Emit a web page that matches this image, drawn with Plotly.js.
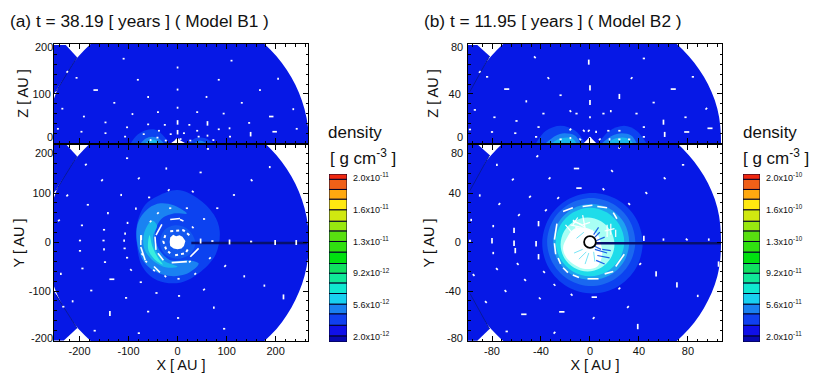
<!DOCTYPE html>
<html><head><meta charset="utf-8">
<script src="https://cdn.plot.ly/plotly-3.0.1.min.js"></script>
<style>html,body{margin:0;padding:0;background:#fff}#c{width:830px;height:380px}</style>
</head><body><div id="c"></div>
<script>
// ---- density colour levels ----
const levelBounds=[1.4,2.1,3.3,4.6,5.7,6.9,8.1,9.2,10.3,11.6,12.8,14,15.1,16.4,17.6,18.7,19.85,20.45];
const levelColors=['#0808b0','#1010e8','#1040f0','#1a80f0','#18d0f0','#10e8d0','#10e898','#10e060','#00e010','#30e010','#58e010','#98e810','#d0e810','#ffe810','#ffa810','#f06018','#f02810','#c81810'].slice(0,17);
const barTickVals=[2,5.6,9.2,12.8,16.4,20];
const barTextA=['2.0x10<sup>-12</sup>','5.6x10<sup>-12</sup>','9.2x10<sup>-12</sup>','1.3x10<sup>-11</sup>','1.6x10<sup>-11</sup>','2.0x10<sup>-11</sup>'];
const barTextB=['2.0x10<sup>-11</sup>','5.6x10<sup>-11</sup>','9.2x10<sup>-11</sup>','1.3x10<sup>-10</sup>','1.6x10<sup>-10</sup>','2.0x10<sup>-10</sup>'];

const BG='#0618e6', C1='#0c42f0', C2='#1a82f2', C3='#1ab6ec', C4='#38eee0', C5='#a8fff4';

// ---- Model B1 outline of the computational disk (AU) ----
const diskAx=[268,259,232,190,134,69,0,-69,-134,-190,-232,-259,-268,-259,-232,-190,-134,-69,0,69,134,190,232,259,268];
const diskAy=[0,69,134,190,232,259,268,259,232,190,134,69,0,-69,-134,-190,-232,-259,-268,-259,-232,-190,-134,-69,0];
const cornerAx=[-252,-228,-205,-248,-252];
const cornerAy=[200,200,175,105,100];
const cornerAxB=[-252,-232,-205,-248,-252];
const cornerAyB=[-201,-201,-176,-108,-100];

// B1 X-Y density levels
const a1x=[86,74,40,0,-40,-66,-83,-83,-72,-42,5,48,78,86];
const a1y=[22,56,90,106,94,76,35,-5,-50,-78,-83,-60,-25,22];
const a2x=[-59,-80,-83,-66,-29,16,43,22,-15,-39,-46,-35,-8,19,-8,-35,-59];
const a2y=[69,41,1,-44,-67,-66,-44,-37,-37,-13,14,45,58,58,75,79,69];
const a3x=[-52,-68,-68,-50,-22,0,-26,-44,-50,-42,-52];
const a3y=[44,19,-13,-38,-52,-50,-39,-17,12,34,44];
const a4x=[-57,-60,-48,-30,-40,-51,-57];
const a4y=[14,-14,-34,-46,-32,-10,14];
const aCorex=[36,21,-5,-28,-36,-23,5,29,36];
const aCorey=[0,26,34,23,-4,-27,-34,-21,0];
const aWhitex=[16,13,10,4,-3,-9,-15,-16,-15,-8,0,8,13,16];
const aWhitey=[2,8,11,14,12,15,9,0,-8,-13,-15,-13,-8,2];

// B1 X-Z density levels
const z1ax=[-95,-85,-65,-45,-28,-18];      const z1ay=[0,14,26,27,14,0];
const z2ax=[-75,-65,-52,-38,-28];          const z2ay=[0,9,13,9,0];
const z3ax=[-65,-55,-45,-38];              const z3ay=[0,6,6,0];
const z4ax=[22,38,55,72];                  const z4ay=[0,10,10,0];
const z5ax=[35,45,58];                     const z5ay=[0,5,0];
const z6ax=[-13,-6,0,6,15];                const z6ay=[0,5,10,5,0];

// B1 velocity dashes: x, y, orientation (h v / \ ; capital = long)
const velA=[[-103,171,'h'],[-187,158,'/'],[-23,150,'v'],[47,142,'h'],[188,153,'v'],[-154,126,'/'],[-79,130,'/'],[151,126,'\\'],[-18,106,'/'],[31,103,'\\'],[115,96,'h'],[-225,95,'/'],[-115,96,'v'],[-58,91,'h'],[-183,76,'h'],[-142,59,'v'],[-85,68,'v'],[-40,59,'/'],[-15,69,'h'],[19,69,'h'],[81,69,'h'],[54,47,'h'],[-102,39,'v'],[-242,44,'/'],[-195,34,'h'],[-150,25,'h'],[-107,17,'v'],[-55,42,'/'],[31,30,'\\'],[-199,3,'h'],[-151,3,'h'],[-109,3,'v'],[-74,9,'V'],[71,2,'h'],[106,0,'V'],[150,1,'h'],[199,-1,'V'],[242,-1,'V'],[47,2,'V'],[-199,-18,'h'],[-150,-15,'v'],[-108,-13,'h'],[-72,-25,'\\'],[-103,-32,'h'],[-148,-41,'h'],[-64,-40,'\\'],[-194,-54,'h'],[-95,-57,'\\'],[-48,-58,'\\'],[-25,-70,'\\'],[2,-75,'h'],[36,-65,'/'],[25,-40,'/'],[66,-33,'/'],[97,-49,'/'],[136,-70,'v'],[-238,-65,'v'],[-134,-76,'H'],[-75,-82,'h'],[54,-97,'/'],[177,-89,'v'],[-176,-99,'h'],[-43,-104,'h'],[3,-110,'h'],[-105,-114,'h'],[-214,-121,'v'],[-233,-132,'h'],[216,-112,'V'],[74,-134,'v'],[-138,-146,'V'],[-60,-142,'h'],[1,-155,'h'],[95,-177,'h'],[-169,-181,'h'],[-79,-186,'h'],[62,190,'h']];
const velAz=[[-110,172,'h'],[110,168,'h'],[0,154,'v'],[-225,145,'/'],[-206,133,'h'],[-81,129,'h'],[84,129,'h'],[0,109,'v'],[205,131,'v'],[-167,108,'H'],[168,108,'h'],[-60,94,'v'],[59,94,'v'],[-129,82,'h'],[131,82,'h'],[-235,70,'h'],[236,69,'v'],[0,72,'v'],[-40,63,'h'],[40,63,'h'],[-191,54,'h'],[-92,59,'v'],[94,60,'h'],[191,54,'H'],[0,42,'V'],[-147,42,'h'],[146,41,'h'],[61,40,'V'],[-60,38,'h'],[-26,37,'h'],[24,37,'h'],[-244,29,'h'],[-103,32,'h'],[106,30,'v'],[243,29,'h'],[-196,23,'h'],[-147,20,'h'],[-38,25,'h'],[0,22,'V'],[40,25,'h'],[84,28,'h'],[198,23,'H'],[149,18,'V'],[107,13,'h'],[-107,13,'h'],[-69,18,'h'],[-14,18,'h'],[13,20,'h'],[61,15,'v'],[-41,11,'h'],[43,13,'h'],[-55,6,'v'],[-24,5,'h'],[26,5,'h'],[73,6,'h'],[-2,6,'h'],[6,8,'h']];
// B1 dashed rings
const ringAx=[-15,5,null,5,12,null,-32,-44,null,-46,-44,null,-40,-29,null,-12,19,null,26,43,null,-75,-75,null,-75,-66,null,-48,-36,null];
const ringAy=[46,48,null,46,43,null,36,14,null,11,-16,null,-23,-37,null,-42,-40,null,-30,-13,null,14,-6,null,-10,-37,null,-50,-62,null];
const dotRingAx=[-25,-29,-23,-15,null,-15,12,24,null,-5,16,22];
const dotRingAy=[14,1,-16,-23,null,22,24,14,null,-27,-23,-13];
const jetAx=[28,264];
const jetAy=[-2,-2];

// ---- Model B2 ----
const diskBx=[107,104,93,76,54,28,0,-28,-54,-76,-93,-104,-107,-104,-93,-76,-54,-28,0,28,54,76,93,104,107];
const diskBy=[0,28,54,76,93,104,107,104,93,76,54,28,0,-28,-54,-76,-93,-104,-107,-104,-93,-76,-54,-28,0];
const cornerBx=[-99.6,-92,-82,-98,-99.6];
const cornerBy=[80,80,71,42,40];
const cornerByB=[-80.5,-80.5,-71,-42,-40];
const b1x=[43,37.5,22.5,2,-18.5,-33.5,-39,-33.5,-18.5,2,22.5,37.5,43];
const b1y=[-1,19.5,34.5,40,34.5,19.5,-1,-21.5,-36.5,-42,-36.5,-21.5,-1];
const b2x=[37,32,19,1,-17,-30,-35,-30,-17,1,19,32,37];
const b2y=[0,18,31,36,31,18,0,-18,-31,-36,-31,-18,0];
const b3x=[32,28,16.5,1,-14.5,-26,-30,-26,-14.5,1,16.5,28,32];
const b3y=[0,15.5,27,31,27,15.5,0,-15.5,-27,-31,-27,-15.5,0];
const b4x=[28,24,14,0,-14,-24,-28,-24,-14,0,14,24,28];
const b4y=[0,14,24,28,24,14,0,-14,-24,-28,-24,-14,0];
const b5x=[20,17,9,-2,-13,-21,-24,-21,-13,-2,9,17,20];
const b5y=[-2,9,17,20,17,9,-2,-13,-21,-24,-21,-13,-2];
const b6x=[9,7,1,-7,-14,-19,-22,-19,-12,-4,6,10,9];
const b6y=[-2,5,10,12,10,3,-5,-13,-19,-22,-20,-10,-2];
const holeBx=[4.8,3.4,0,-3.4,-4.8,-3.4,0,3.4,4.8];
const holeBy=[0,3.4,4.8,3.4,0,-3.4,-4.8,-3.4,0];
const zb1x=[-44,-36,-24,-12,-4];   const zb1y=[0,10,14,10,0];
const zb2x=[-36,-28,-21,-12,-8];   const zb2y=[0,6,8,6,0];
const zb3x=[-31,-23,-15,-11];      const zb3y=[0,4,4,0];
const zb4x=[7,16,28,38,46];        const zb4y=[0,10,14,10,0];
const zb5x=[10,18,26,34,38];       const zb5y=[0,6,8,6,0];
const zb6x=[14,22,30,35];          const zb6y=[0,4,4,0];
const zb7x=[-5,-2,0,2,5];          const zb7y=[0,3,5,3,0];

const velB=[[-43,70,'/'],[-76,63,'v'],[-11,60,'H'],[18,58,'\\'],[61,52,'\\'],[76,63,'h'],[-63,51,'/'],[-33,52,'/'],[-49,37,'/'],[-9,44,'H'],[11,43,'\\'],[46,40,'\\'],[-90,38,'v'],[-26,36,'/'],[-74,31,'/'],[32,31,'\\'],[-36,26,'/'],[-58,22,'/'],[-97,18,'v'],[-79,13,'v'],[-42,15,'V'],[-62,9.5,'V'],[-80,1,'V'],[-62,-1,'V'],[-44,-1.4,'V'],[-98,1,'v'],[44,3,'V'],[60,2,'v'],[79,2,'\\'],[97,2,'v'],[-79,-9,'v'],[-61,-7,'V'],[-42,-12,'V'],[-59,-18,'\\'],[-76,-22,'\\'],[-37.5,-24.5,'\\'],[-95,-27,'\\'],[-53,-31,'\\'],[-29,-35,'\\'],[-69,-40,'\\'],[-15,-43,'\\'],[-41,-46,'\\'],[3.5,-45,'H'],[24,-38,'/'],[-85,-49,'\\'],[54,-26,'V'],[71,-35,'V'],[88,-44,'v'],[41,-18,'/'],[31,-53,'/'],[-54,-59,'H'],[-23,-57,'H'],[3,-62,'/'],[39,-69,'V'],[-68,-73,'h'],[-29,-74,'/'],[24,77,'/'],[105,-18,'V']];
const velBz=[[-1,66,'V'],[0,45,'V'],[0,33,'V'],[0,21,'v'],[-45,70,'\\'],[44,69,'h'],[-90,58,'/'],[-84,54,'h'],[-34,53,'\\'],[34,53,'/'],[84,54,'h'],[-68,44,'H'],[68,44,'H'],[-16,26,'\\'],[24,38,'V'],[-52,34,'v'],[52,33,'h'],[-24,39,'h'],[-94,27,'h'],[95,28,'/'],[17,26,'v'],[-78,21,'h'],[78,21,'h'],[-38,24,'h'],[38,24,'h'],[-11,24,'h'],[11,24,'h'],[-60,18,'h'],[60,17,'V'],[-42,13,'h'],[-16,11,'/'],[-5,10,'\\'],[-1,10,'/'],[5,9,'v'],[15,10,'h'],[24,10,'h'],[44,13,'h'],[-98,11,'h'],[98,12,'H'],[-80,9,'h'],[-61,8,'h'],[-44,5,'h'],[61,7,'V'],[79,9,'H'],[44,5,'h'],[-24,3,'h'],[-16,4,'v'],[-8,3,'\\'],[8,3,'/'],[16,3,'v'],[24,3,'h'],[32,3,'h']];
const ringBx=[-27,-29,null,-29,-28,null,-26,-24,null,-22,-18,null,-14,-9,null,-2,7,null,12,19,null,21,28,null,-22,-14,null,-6,2,null,6,14,null,19,22,null];
const ringBy=[15,2,null,-1,-10,null,-13,-18,null,-21,-25,null,-27,-29,null,-30,-30,null,-26,-24,null,-20,-10,null,25,28,null,29,30,null,29,28,null,24,19,null];
const streakBx=[-14,-4,null,-12,-2,null,-6,-3,null,2,-2,null,-16,-7,null,-14,-6,null,-6,0,null,14,14,null,17,17,null,21,21,null,12,20,null,-20,-15,null,-10,-14,null];
const streakBy=[18,12,null,12,9,null,22,6,null,10,3,null,14,12,null,17,14,null,14,16,null,14,4,null,15,6,null,10,4,null,9,11,null,14,8,null,20,14,null];
const cyanStreakBx=[-13,-6,null,-9,-3,null,-4,-1,null,4,3,null,-11,-5,null];
const cyanStreakBy=[-9,-6,null,-14,-8,null,-18,-9,null,-16,-8,null,3,8,null];
const darkStreakBx=[4,14,null,6,16,null,5,12,null,3,9,null,10,17,null,4,8,null,3,7,null,5,12,null];
const darkStreakBy=[-6,-9,null,-11,-13,null,-15,-18,null,-3,-6,null,-6,-7,null,4,8,null,6,12,null,1,4,null];
const jetBx=[5,107];
const jetBy=[-1,-1];

// ---- helpers that turn the arrays above into traces ----
const W=830,H=380;
const fx=p=>p/W, fy=p=>1-p/H;
function poly(x,y,color,ax,ay,smooth=true){return {type:'scatter',mode:'lines',x,y,fill:'toself',fillcolor:color,line:{width:0,color:color,shape:smooth?'spline':'linear'},xaxis:ax,yaxis:ay,hoverinfo:'skip',showlegend:false};}
function lines(x,y,color,width,ax,ay,dash){return {type:'scatter',mode:'lines',x,y,line:{width,color,dash:dash||'solid'},xaxis:ax,yaxis:ay,hoverinfo:'skip',showlegend:false,connectgaps:false};}
function dashes(list,unit,ax,ay){
  const xs=[],ys=[];
  const dirs={h:[1,0],v:[0,1],'/':[.75,.75],'\\':[.75,-.75]};
  for(const [x,y,o] of list){
    const lo=o.toLowerCase(); const k=(o!==lo?2.3:1)*unit; const d=dirs[lo];
    xs.push(x-d[0]*k,x+d[0]*k,null); ys.push(y-d[1]*k,y+d[1]*k,null);
  }
  return lines(xs,ys,'#ffffff',1.7,ax,ay);
}
const traces=[];
// left X-Z
traces.push(poly(cornerAx,cornerAy,BG,'x','y',false),poly(diskAx,diskAy,BG,'x','y'));
traces.push(lines(cornerAx.slice(2,4),cornerAy.slice(2,4),'#08189a',1,'x','y'));
traces.push(poly(z1ax,z1ay,C1,'x','y'),poly(z4ax,z4ay,C1,'x','y'),poly(z2ax,z2ay,C2,'x','y'),poly(z5ax,z5ay,C2,'x','y'),poly(z3ax,z3ay,C3,'x','y'),poly(z6ax,z6ay,'#ffffff','x','y'));
traces.push(dashes(velAz,2,'x','y'));
// left X-Y
traces.push(poly(cornerAx,cornerAy,BG,'x2','y2',false),poly(cornerAxB,cornerAyB,BG,'x2','y2',false),poly(diskAx,diskAy,BG,'x2','y2'));
traces.push(lines(cornerAx.slice(2,4),cornerAy.slice(2,4),'#08189a',1,'x2','y2'),lines(cornerAxB.slice(2,4),cornerAyB.slice(2,4),'#08189a',1,'x2','y2'));
traces.push(poly(a1x,a1y,C1,'x2','y2'),poly(a2x,a2y,C2,'x2','y2'),poly(a3x,a3y,C3,'x2','y2'),poly(a4x,a4y,C4,'x2','y2'),poly(aCorex,aCorey,'#1258f0','x2','y2'),poly(aWhitex,aWhitey,'#ffffff','x2','y2',false));
traces.push(lines(jetAx,jetAy,'#06106e',2.5,'x2','y2'));
traces.push(dashes(velA,2.2,'x2','y2'),lines(ringAx,ringAy,'#ffffff',1.6,'x2','y2'),lines(dotRingAx,dotRingAy,'#ffffff',2,'x2','y2','dot'));
// right X-Z
traces.push(poly(cornerBx,cornerBy,BG,'x3','y3',false),poly(diskBx,diskBy,BG,'x3','y3'));
traces.push(lines(cornerBx.slice(2,4),cornerBy.slice(2,4),'#08189a',1,'x3','y3'));
traces.push(poly(zb1x,zb1y,C1,'x3','y3'),poly(zb4x,zb4y,C1,'x3','y3'),poly(zb2x,zb2y,C2,'x3','y3'),poly(zb5x,zb5y,C2,'x3','y3'),poly(zb3x,zb3y,C3,'x3','y3'),poly(zb6x,zb6y,C3,'x3','y3'),poly(zb7x,zb7y,'#ffffff','x3','y3'));
traces.push(dashes(velBz,.9,'x3','y3'));
// right X-Y
traces.push(poly(cornerBx,cornerBy,BG,'x4','y4',false),poly(cornerBx,cornerByB,BG,'x4','y4',false),poly(diskBx,diskBy,BG,'x4','y4'));
traces.push(lines(cornerBx.slice(2,4),cornerBy.slice(2,4),'#08189a',1,'x4','y4'),lines(cornerBx.slice(2,4),cornerByB.slice(2,4),'#08189a',1,'x4','y4'));
traces.push(poly(b1x,b1y,C1,'x4','y4'),poly(b2x,b2y,'#1a68f0','x4','y4'),poly(b3x,b3y,'#1ea2f0','x4','y4'),poly(b4x,b4y,'#1edcea','x4','y4'),poly(b5x,b5y,C5,'x4','y4'),poly(b6x,b6y,'#ffffff','x4','y4'));
traces.push(lines(streakBx,streakBy,'#ffffff',1.2,'x4','y4'),lines(cyanStreakBx,cyanStreakBy,'#78e4f6',1,'x4','y4'),lines(darkStreakBx,darkStreakBy,'#1a60e8',1.2,'x4','y4'));
traces.push(lines(jetBx,jetBy,'#06106e',2.5,'x4','y4'));
traces.push(dashes(velB,.95,'x4','y4'),lines(ringBx,ringBy,'#ffffff',1.6,'x4','y4'));
traces.push({type:'scatter',mode:'lines',x:holeBx,y:holeBy,fill:'toself',fillcolor:'#ffffff',line:{width:1.8,color:'#000',shape:'spline'},xaxis:'x4',yaxis:'y4',hoverinfo:'skip',showlegend:false});
// colour bars
const barBase=levelBounds.slice(0,-1), barH=barBase.map((b,i)=>levelBounds[i+1]-b);
for(const [ax,ay] of [['x5','y5'],['x6','y6']]){
  traces.push({type:'bar',x:barBase.map(()=>0.5),y:barH,base:barBase,width:1,marker:{color:levelColors,line:{color:'#000028',width:1}},xaxis:ax,yaxis:ay,hoverinfo:'skip',showlegend:false});
}

const font={family:'"Liberation Sans",Arial,sans-serif',size:11,color:'#111'};
function panelX(d,range,vals,text,minor,anchor,showLab,titleTxt){
  const ax={domain:d,range,anchor,tickmode:'array',tickvals:vals,ticktext:text,showticklabels:showLab,ticks:'inside',ticklen:5,tickcolor:'#000',tickwidth:1,
    minor:{dtick:minor,ticks:'inside',ticklen:2.5,tickcolor:'#000',tickwidth:1,showgrid:false},showgrid:false,zeroline:false,showline:true,linecolor:'#000',linewidth:1,mirror:'ticks',
    tickfont:{...font,size:11},automargin:false};
  if(titleTxt) ax.title={text:titleTxt,font:{...font,size:14.5},standoff:2};
  return ax;
}
function panelY(d,range,vals,text,minor,anchor,titleTxt,off){
  return {domain:d,range,anchor,tickmode:'array',tickvals:vals,ticktext:text,ticks:'inside',ticklen:5,tickcolor:'#000',tickwidth:1,
    minor:{dtick:minor,ticks:'inside',ticklen:2.5,tickcolor:'#000',tickwidth:1,showgrid:false},showgrid:false,zeroline:false,showline:true,linecolor:'#000',linewidth:1,mirror:'ticks',
    tickfont:{...font,size:11},automargin:false,ticklabelstandoff:off,
    title:{text:titleTxt,font:{...font,size:14.5},standoff:off?6:0}};
}
const dL=[fx(54),fx(308)], dR=[fx(468),fx(722)];
const dT=[fy(143),fy(44)], dB=[fy(341),fy(145)];
const rxA=[-252,266], rxB=[-99.6,107.8];
const layout={width:W,height:H,margin:{l:0,r:0,t:0,b:0},paper_bgcolor:'#fff',plot_bgcolor:'#fff',font,showlegend:false,barmode:'overlay',
 xaxis:panelX(dL,rxA,[-200,-100,0,100,200],['-200','-100','0','100','200'],20,'y',false),
 yaxis:panelY(dT,[0,202],[100],['100'],20,'x','Z [ AU ]',0),
 xaxis2:panelX(dL,rxA,[-200,-100,0,100,200],['-200','-100','0','100','200'],20,'y2',true,'X [ AU ]'),
 yaxis2:panelY(dB,[-202,198],[-100,0,100],['-100','0','100'],20,'x2','Y [ AU ]',0),
 xaxis3:panelX(dR,rxB,[-80,-40,0,40,80],['-80','-40','0','40','80'],8,'y3',false),
 yaxis3:panelY(dT,[0,80.8],[40],['40'],8,'x3','Z [ AU ]',4),
 xaxis4:panelX(dR,rxB,[-80,-40,0,40,80],['-80','-40','0','40','80'],8,'y4',true,'X [ AU ]'),
 yaxis4:panelY(dB,[-80.8,79.2],[-40,0,40],['-40','0','40'],8,'x4','Y [ AU ]',4),
 xaxis5:{domain:[fx(329),fx(347)],range:[0,1],anchor:'y5',visible:false},
 yaxis5:{domain:[fy(342),fy(174)],range:[1.4,20.45],anchor:'x5',side:'right',tickmode:'array',tickvals:barTickVals,ticktext:barTextA,ticks:'',showgrid:false,zeroline:false,showline:false,tickfont:{...font,size:9},ticklabelstandoff:5},
 xaxis6:{domain:[fx(743),fx(760)],range:[0,1],anchor:'y6',visible:false},
 yaxis6:{domain:[fy(342),fy(174)],range:[1.4,20.45],anchor:'x6',side:'right',tickmode:'array',tickvals:barTickVals,ticktext:barTextB,ticks:'',showgrid:false,zeroline:false,showline:false,tickfont:{...font,size:9},ticklabelstandoff:5},
 annotations:[]
};
function note(text,px,py,size,xa='left'){layout.annotations.push({text,xref:'paper',yref:'paper',x:fx(px),y:fy(py),xanchor:xa,yanchor:'middle',showarrow:false,font:{...font,size},borderpad:0,borderwidth:0});}
note('(a) t = 38.19 [ years ] ( Model B1 )',10,21,17.3);
note('(b) t = 11.95 [ years ] ( Model B2 )',424,21,17.3);
note('density',328,132,17);
note('[ g cm<sup>-3</sup> ]',330,157,17);
note('density',743,132,17);
note('[ g cm<sup>-3</sup> ]',743,157,17);
// end tick labels sit just inside the frame in the reference
note('200',53,47,11,'right'); note('0',53,137,11,'right'); note('200',53,153,11,'right'); note('-200',53,338,11,'right');
note('80',463,47,11,'right'); note('0',463,137,11,'right'); note('80',463,153,11,'right'); note('-80',463,338,11,'right');
Plotly.newPlot('c',traces,layout,{staticPlot:true,displayModeBar:false});
</script></body></html>
